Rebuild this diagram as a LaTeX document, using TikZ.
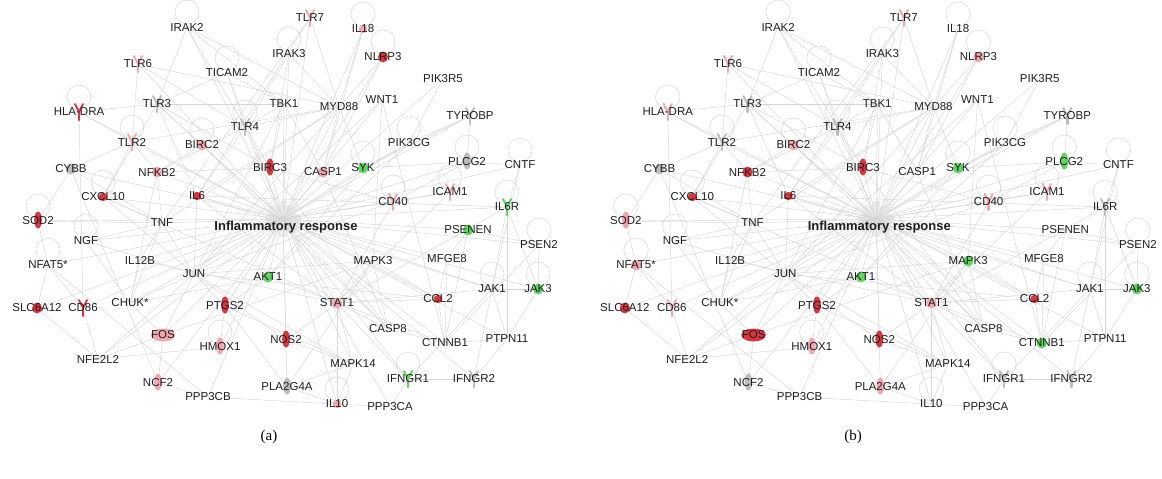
\documentclass[tikz,border=0pt]{standalone}
\usepackage{fontspec}
\setmainfont{Liberation Sans}
\newfontfamily\capfont{Liberation Serif}
\definecolor{lr}{HTML}{F0A8AE}
\definecolor{rd}{HTML}{D93540}
\definecolor{gn}{HTML}{62D462}
\definecolor{gy}{HTML}{BDBDBD}
\definecolor{txt}{HTML}{1E1E1E}
\pgfdeclarelayer{bg}\pgfdeclarelayer{mid}\pgfsetlayers{bg,mid,main}
\tikzset{
  gene/.style={font=\fontsize{11.5}{12}\selectfont, text=txt, inner sep=0pt},
  central/.style={font=\fontsize{13}{14}\selectfont\bfseries, text=txt, inner sep=0pt},
  edge/.style={draw=gray!33, line width=0.45pt},
  loopc/.style={draw=gray!28, line width=0.6pt},
  gearc/.style={fill=gray!14},
  caption/.style={font=\capfont\fontsize{15}{16}\selectfont, text=black, inner sep=0pt}
}
% name/x/y/label/type/colour(a)/colour(b)/loop
\def\nodelist{IRAK2/187/27/IRAK2/4/0/0/1,
TLR7/310/18/TLR7/1/1/1/0,
IL18/363/29/IL18/2/1/0/1,
IRAK3/289/54/IRAK3/4/0/0/1,
TLR6/138/64/TLR6/1/1/1/0,
NLRP3/383/57/NLRP3/4/2/1/1,
TICAM2/227/73/TICAM2/4/0/0/1,
PIK3R5/443/79/PIK3R5/4/0/0/0,
HLA-DRA/79/112/HLA-DRA/1/2/1/1,
TLR3/157/104/TLR3/1/4/4/0,
TBK1/284/104/TBK1/4/0/0/0,
MYD88/339/107/MYD88/4/0/0/0,
WNT1/382/100/WNT1/2/0/0/0,
TYROBP/470/116/TYROBP/1/4/4/0,
TLR4/245/127/TLR4/1/4/4/1,
TLR2/132/142/TLR2/1/1/4/1,
BIRC2/202/145/BIRC2/4/1/1/1,
PIK3CG/409/143/PIK3CG/4/0/0/1,
CYBB/71/169/CYBB/4/4/4/0,
NFKB2/157/172/NFKB2/4/1/2/0,
BIRC3/270/168/BIRC3/3/2/2/0,
CASP1/323/172/CASP1/4/1/0/0,
SYK/363/168/SYK/4/3/3/1,
PLCG2/467/162/PLCG2/3/4/3/1,
CNTF/520/165/CNTF/2/0/0/1,
ICAM1/450/192/ICAM1/1/1/1/1,
CXCL10/103/197/CXCL10/2/2/2/1,
IL6/197/196/IL6/2/2/2/0,
CD40/393/202/CD40/1/1/1/1,
IL6R/507/207/IL6R/1/3/4/1,
SOD2/38/221/SOD2/3/2/1/1,
TNF/162/223/TNF/2/0/0/0,
PSENEN/468/230/PSENEN/4/3/0/0,
NGF/86/241/NGF/2/0/0/1,
PSEN2/539/245/PSEN2/4/0/0/1,
IL12B/140/260/IL12B/2/0/0/0,
MAPK3/373/261/MAPK3/4/0/3/0,
MFGE8/447/259/MFGE8/4/0/0/0,
NFAT5/48/265/NFAT5*/4/0/1/1,
JUN/194/274/JUN/4/0/0/0,
AKT1/268/277/AKT1/4/3/3/0,
JAK1/492/289/JAK1/4/0/0/1,
JAK3/538/289/JAK3/4/3/3/1,
CCL2/438/299/CCL2/2/2/2/0,
STAT1/337/303/STAT1/4/1/1/0,
SLC6A12/37/308/SLC6A12/4/2/2/0,
CD86/83/308/CD86/1/2/1/0,
CHUK/130/303/CHUK*/4/0/0/0,
PTGS2/225/306/PTGS2/3/2/2/0,
CASP8/388/329/CASP8/4/0/0/0,
FOS/163/335/FOS/5/1/2/0,
NOS2/286/340/NOS2/3/2/2/0,
PTPN11/507/339/PTPN11/4/0/0/0,
CTNNB1/445/343/CTNNB1/4/0/3/0,
HMOX1/220/347/HMOX1/3/1/1/1,
NFE2L2/98/359/NFE2L2/4/0/0/0,
MAPK14/353/364/MAPK14/4/0/0/0,
IFNGR1/408/379/IFNGR1/1/3/4/1,
IFNGR2/474/379/IFNGR2/1/4/4/0,
NCF2/158/383/NCF2/3/1/4/0,
PLA2G4A/287/387/PLA2G4A/3/4/1/0,
PPP3CB/208/397/PPP3CB/4/0/0/0,
IL10/337/404/IL10/2/1/0/1,
PPP3CA/390/407/PPP3CA/4/0/0/0}
\def\edgelist{TLR6/TLR2, TLR6/MYD88, TLR6/TLR4, TLR2/MYD88, TLR4/MYD88, TLR7/MYD88, IRAK2/MYD88, IRAK2/TLR3, IRAK2/TBK1, IRAK2/TLR4, IRAK3/MYD88, IRAK3/TLR4, IRAK3/BIRC3, IL18/MYD88, IL18/CASP1, NLRP3/CASP1, NLRP3/MYD88, TLR3/TICAM2, TLR4/TICAM2, TICAM2/TBK1, TLR3/TBK1, TLR4/TBK1, TLR3/HLA-DRA, HLA-DRA/TLR2, HLA-DRA/CD86, TLR2/NFKB2, TLR2/CYBB, TLR2/CXCL10, TLR3/CXCL10, TLR3/BIRC3, TLR3/IL6, TLR4/BIRC3, TLR4/IL6, TLR4/NFKB2, TBK1/BIRC3, TBK1/CASP1, TBK1/JUN, MYD88/CASP1, MYD88/SYK, MYD88/IL6, MYD88/TNF, MYD88/JUN, TLR7/IL6, TLR7/TNF, WNT1/CTNNB1, WNT1/JUN, PIK3R5/PIK3CG, PIK3CG/AKT1, PIK3CG/SYK, TYROBP/SYK, TYROBP/PLCG2, PLCG2/SYK, PLCG2/CD40, CNTF/IL6R, CNTF/JAK1, ICAM1/CD40, ICAM1/STAT1, IL6R/JAK1, IL6R/PTPN11, IL6R/IL6, IL6R/STAT1, PSENEN/PSEN2, PSENEN/CTNNB1, PSEN2/CTNNB1, JAK1/JAK3, JAK1/STAT1, JAK1/PTPN11, JAK3/PTPN11, JAK1/IFNGR1, JAK1/IFNGR2, IFNGR1/IFNGR2, IFNGR1/STAT1, MFGE8/CCL2, MFGE8/CTNNB1, CCL2/STAT1, CCL2/MAPK3, CCL2/JUN, CCL2/CTNNB1, CASP8/CTNNB1, CASP8/STAT1, MAPK3/STAT1, MAPK3/JUN, MAPK3/FOS, MAPK3/CASP8, MAPK14/STAT1, MAPK14/NOS2, MAPK14/PTGS2, MAPK14/JUN, IL10/STAT1, IL10/MAPK14, PPP3CB/PPP3CA, PPP3CB/NFAT5, PLA2G4A/PTGS2, PLA2G4A/MAPK14, PLA2G4A/MAPK3, NOS2/STAT1, NOS2/JUN, HMOX1/NFE2L2, NFE2L2/JUN, NFE2L2/FOS, NFE2L2/SLC6A12, NFE2L2/CD86, NCF2/CYBB, NCF2/FOS, FOS/JUN, FOS/CHUK, CHUK/NFKB2, CHUK/IL12B, CHUK/TNF, CHUK/JUN, IL12B/TNF, IL12B/STAT1, TNF/NFKB2, TNF/CXCL10, TNF/JUN, NGF/CHUK, NGF/JUN, NGF/TNF, SOD2/NFAT5, SOD2/TNF, SOD2/CYBB, NFAT5/SLC6A12, NFAT5/CD86, CYBB/TNF, CXCL10/STAT1, CXCL10/JUN, IL6/STAT1, IL6/JUN, IL6/JAK1, NFKB2/BIRC2, NFKB2/BIRC3, BIRC2/CASP8, BIRC3/CASP8, BIRC2/TLR3, CASP1/CASP8, SYK/AKT1, CD40/BIRC3, CD40/JUN, CD40/STAT1, AKT1/CHUK, AKT1/CTNNB1, AKT1/PTGS2, PTPN11/CTNNB1, HMOX1/PTGS2, PTGS2/JUN, NCF2/PPP3CB, PPP3CA/IFNGR1, PLA2G4A/IL10, IFNGR2/PTPN11, JAK3/IL6R, PSEN2/JAK3, CNTF/PLCG2, TYROBP/PIK3CG, MFGE8/PSENEN, WNT1/MAPK3}

\newcommand\drawpanel[2]{%
  \def\pfx{#1}\def\panel{#2}%
  % gear of the central function node
  \begin{pgfonlayer}{bg}
    \fill[gearc] (283,219) circle (14);
    \foreach \a in {0,45,...,315}
      \fill[gearc, rotate around={\a:(283,219)}] (279,201) rectangle (287,207);
    \fill[white] (283,219) circle (5.5);
  \end{pgfonlayer}
  \coordinate (\pfx-IR) at (283,219);
  \node[central] (\pfx-IRlabel) at (286,227) {Inflammatory response};
  \foreach \n/\x/\y/\lab/\ty/\ca/\cb/\lp in \nodelist {%
    \node[gene] (\pfx-\n) at (\x,\y) {\lab};
    \ifnum\panel=1 \let\cc\ca\else\let\cc\cb\fi
    \ifcase\cc\relax\def\gc{white}\or\def\gc{lr}\or\def\gc{rd}\or\def\gc{gn}\or\def\gc{gy}\fi
    \ifnum\lp=1
      \begin{pgfonlayer}{bg}
        \draw[loopc] (\x,\y-15) circle (12);
      \end{pgfonlayer}
    \fi
    \ifnum\cc>0
      \begin{pgfonlayer}{mid}
        \ifcase\ty\relax
        \or
          \draw[draw=\gc, line width=2pt, line cap=round, line join=round] (\x-4,\y-8) -- (\x,\y) -- (\x+4,\y-8);
          \draw[draw=\gc, line width=2.4pt, line cap=round] (\x,\y) -- (\x,\y+8);
        \or
          \fill[fill=\gc] (\x,\y) circle (4.2);
        \or
          \fill[fill=\gc] (\x,\y-1) ellipse (3.8 and 8.5);
        \or
          \fill[fill=\gc] (\x,\y) ellipse (5 and 5.5);
        \or
          \fill[fill=\gc] (\x,\y) ellipse (12 and 6.5);
        \fi
      \end{pgfonlayer}
    \fi
  }
  \begin{pgfonlayer}{bg}
    \foreach \n/\x/\y/\lab/\ty/\ca/\cb/\lp in \nodelist
      \draw[edge] (\pfx-IR) -- (\pfx-\n.center);
    \foreach \u/\v in \edgelist
      \draw[edge] (\pfx-\u.center) -- (\pfx-\v.center);
  \end{pgfonlayer}
}

\begin{document}
\begin{tikzpicture}[x=1pt,y=-1pt]
  \useasboundingbox (0,0) rectangle (1162,479);
  \begin{scope}
    \drawpanel{a}{1}
  \end{scope}
  \begin{scope}[shift={(587,0)}, xscale=1.022]
    \drawpanel{b}{2}
  \end{scope}
  \node[caption] (capA) at (269,437) {(a)};
  \node[caption] (capB) at (853,437) {(b)};
\end{tikzpicture}
\end{document}
